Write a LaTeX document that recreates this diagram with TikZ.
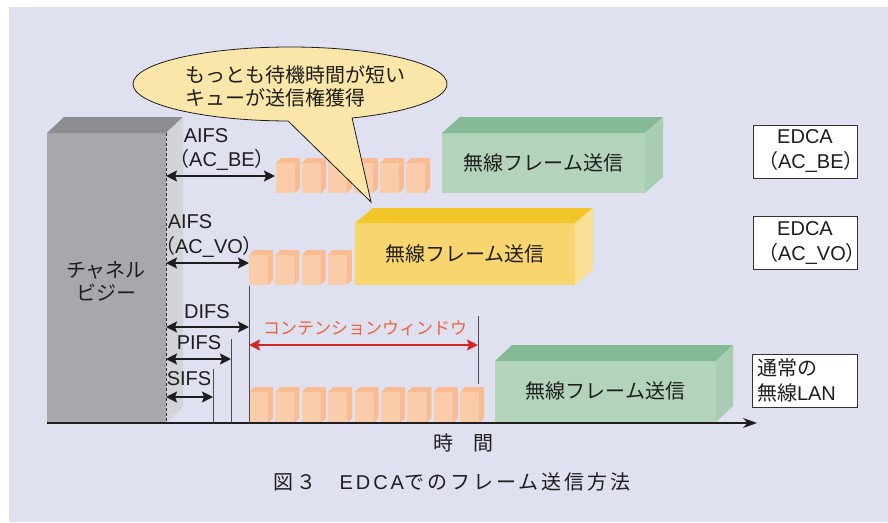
\documentclass[tikz,border=0pt]{standalone}
\usepackage{fontspec}
\setmainfont{Liberation Sans}
\newfontfamily\jp{Noto Sans CJK JP}
\newfontfamily\jpcap{Noto Sans CJK JP}[LetterSpace=15]
\newfontfamily\latcap{Liberation Sans}[LetterSpace=15]
\usetikzlibrary{arrows.meta}
\definecolor{bgc}{RGB}{223,224,240}
\definecolor{grayF}{RGB}{167,168,172}
\definecolor{grayT}{RGB}{140,141,145}
\definecolor{grayS}{RGB}{211,212,215}
\definecolor{orF}{RGB}{251,204,170}
\definecolor{orT}{RGB}{250,187,146}
\definecolor{gF}{RGB}{179,211,187}
\definecolor{gT}{RGB}{133,187,148}
\definecolor{gS}{RGB}{168,205,178}
\definecolor{yF}{RGB}{248,213,110}
\definecolor{yT}{RGB}{242,198,40}
\definecolor{yS}{RGB}{250,224,150}
\definecolor{callc}{RGB}{250,230,168}
\definecolor{redarr}{RGB}{212,40,40}
\definecolor{redtxt}{RGB}{235,100,60}
\definecolor{inkc}{RGB}{30,30,30}
\newcommand\drawcuboid[9]{%
  \fill[#7] (#1,#2) rectangle ++(#3,#4);
  \fill[#8] (#1,#2) -- ++(#5,-#6) -- ++(#3,0) -- ++(-#5,#6) -- cycle;
  \fill[#9] ({#1+#3},#2) -- ++(#5,-#6) -- ++(0,#4) -- ++(-#5,#6) -- cycle;
}
\tikzset{
  lat/.style={font=\fontsize{20pt}{25pt}\selectfont, inner sep=0pt, text=inkc},
  jtxt/.style={font=\jp\fontsize{20pt}{23pt}\selectfont, inner sep=0pt, text=inkc},
  dimarrow/.style={line width=2.1pt, draw=inkc,
    {Stealth[length=11pt,width=11pt,inset=2pt]}-{Stealth[length=11pt,width=11pt,inset=2pt]}},
  tickline/.style={draw=black!70, line width=1pt},
  labelbox/.style={draw=black!80, fill=white, line width=0.8pt, inner xsep=5pt,
    minimum height=53pt, font=\fontsize{20pt}{25pt}\selectfont, text=inkc},
}
\begin{document}
\begin{tikzpicture}[x=1pt,y=-1pt]
\useasboundingbox (0,0) rectangle (888,522);
\fill[bgc] (9,7) rectangle (888,522);

% channel busy block
\drawcuboid{47}{133}{119}{290}{17}{16}{grayF}{grayT}{grayS}
\draw[black!85, line width=0.8pt, dash pattern=on 3pt off 2pt] (166,133) -- (166,423);
\node[jtxt, align=center] (busy) at (106,281) {チャネル\\ビジー};

% small backoff slots
\foreach \k in {0,...,5} {\drawcuboid{276+26*\k}{163}{19}{30}{5}{5}{orF}{orT}{orT}}
\foreach \k in {0,...,3} {\drawcuboid{249+26.3*\k}{255}{19}{30}{5}{5}{orF}{orT}{orT}}
\foreach \k in {0,...,8} {\drawcuboid{249+26.4*\k}{392}{19}{31}{5}{5}{orF}{orT}{orT}}

% frame transmission boxes
\drawcuboid{442}{133}{203}{60}{18}{16}{gF}{gT}{gS}
\node[jtxt] (tx1) at (543.5,163) {無線フレーム送信};
\drawcuboid{355}{223}{220}{62}{18}{15}{yF}{yT}{yS}
\node[jtxt] (tx2) at (465,254) {無線フレーム送信};
\drawcuboid{495}{361}{221}{61}{17}{16}{gF}{gT}{gS}
\node[jtxt] (tx3) at (605.5,391) {無線フレーム送信};

% time axis
\coordinate (ax0) at (47,423);
\coordinate (ax1) at (757,423);
\draw[line width=1.4pt, draw=inkc, -{Stealth[length=14pt,width=10pt]}] (ax0) -- (ax1);

% tick lines
\coordinate (t1a) at (249,286); \coordinate (t1b) at (249,423);
\coordinate (t2a) at (231,339); \coordinate (t2b) at (231,423);
\coordinate (t3a) at (213,369); \coordinate (t3b) at (213,423);
\coordinate (t4a) at (478,316); \coordinate (t4b) at (478,384);
\draw[tickline] (t1a) -- (t1b);
\draw[tickline] (t2a) -- (t2b);
\draw[tickline] (t3a) -- (t3b);
\draw[tickline] (t4a) -- (t4b);

% interval arrows
\coordinate (beL) at (166,176); \coordinate (beR) at (275,176);
\coordinate (voL) at (166,263); \coordinate (voR) at (249,263);
\coordinate (diL) at (166,327); \coordinate (diR) at (249,327);
\coordinate (piL) at (166,359); \coordinate (piR) at (231,359);
\coordinate (siL) at (166,397); \coordinate (siR) at (213,397);
\coordinate (cwL) at (249,345); \coordinate (cwR) at (478,345);
\draw[dimarrow] (beL) -- (beR);
\draw[dimarrow] (voL) -- (voR);
\draw[dimarrow] (diL) -- (diR);
\draw[dimarrow] (piL) -- (piR);
\draw[dimarrow] (siL) -- (siR);
\draw[dimarrow, draw=redarr] (cwL) -- (cwR);

% interval labels
\node[lat] (aifs1) at (206,136) {AIFS};
\node[lat] (acbe) at (222,160) {{\jp （}AC\_BE{\jp ）}};
\node[lat] (aifs2) at (190,222) {AIFS};
\node[lat] (acvo) at (209,247) {{\jp （}AC\_VO{\jp ）}};
\node[lat] (difs) at (207,312) {DIFS};
\node[lat] (pifs) at (199,343) {PIFS};
\node[lat] (sifs) at (189,379) {SIFS};
\node[jtxt, font=\jp\fontsize{17pt}{20pt}\selectfont, text=redtxt] (cw) at (365,328) {コンテンションウィンドウ};

% callout
\fill[callc, draw=inkc, line width=0.8pt]
  (290,84) ++(90.7:157 and 37) arc[start angle=90.7, end angle=426.7, x radius=157, y radius=37]
  -- (371,202) -- cycle;
\node[jtxt, align=left, anchor=west] (call) at (185,86.5) {もっとも待機時間が短い\\キューが送信権獲得};

% right-hand labels
\node[labelbox, text width=94pt, align=center] (e1) at (805,151.5) {EDCA\\{\jp （}AC\_BE{\jp ）}};
\node[labelbox, text width=94pt, align=center] (e2) at (805,243) {EDCA\\{\jp （}AC\_VO{\jp ）}};
\node[labelbox, text width=95pt, align=left] (e3) at (804.5,380.5) {{\jp 通常の}\\{\jp 無線}LAN};

% axis label and caption
\node[jtxt] (time) at (463,443) {時　間};
\node[lat, font=\fontsize{20pt}{25pt}\selectfont] (caption) at (452,482)
  {{\jpcap 図３　}{\latcap EDCA}{\jpcap でのフレーム送信方法}};
\end{tikzpicture}
\end{document}
